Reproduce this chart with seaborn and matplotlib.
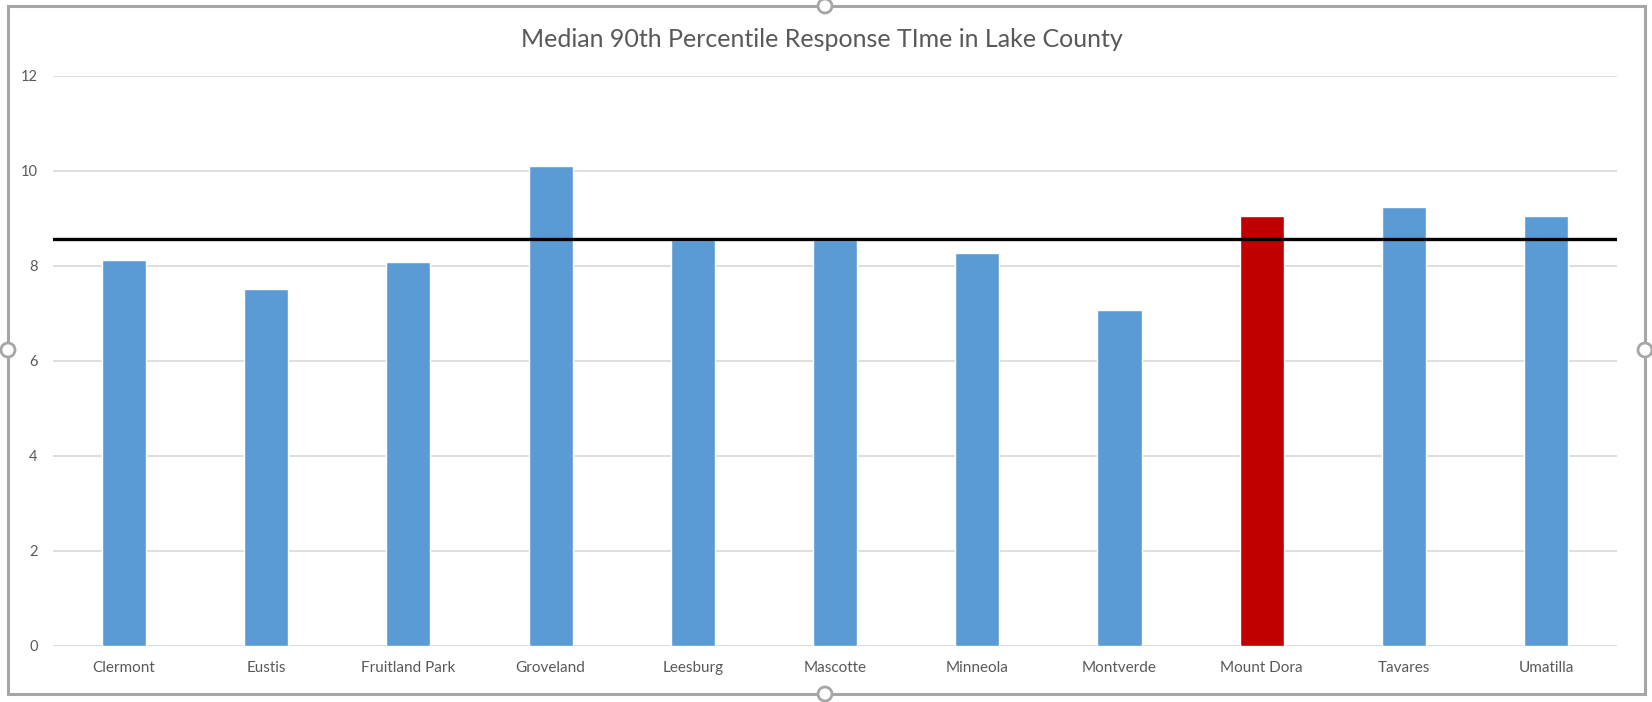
import matplotlib
matplotlib.use("Agg")
import matplotlib.pyplot as plt
import seaborn as sns
import pandas as pd
from matplotlib.patches import Rectangle, Circle

cities = ["Clermont", "Eustis", "Fruitland Park", "Groveland", "Leesburg", "Mascotte",
          "Minneola", "Montverde", "Mount Dora", "Tavares", "Umatilla"]
times = [8.13, 7.51, 8.09, 10.11, 8.55, 8.55, 8.26, 7.06, 9.04, 9.24, 9.04]
highlight = "Mount Dora"
median_line = 8.56
yticks = [0, 2, 4, 6, 8, 10, 12]
title = "Median 90th Percentile Response TIme in Lake County"

BLUE = "#5b9bd5"
RED = "#c00000"
GRAY = "#595959"

sns.set_theme(style="white")
plt.rcParams["font.family"] = ["Lato", "DejaVu Sans"]

df = pd.DataFrame({"city": cities, "time": times})
palette = {c: (RED if c == highlight else BLUE) for c in cities}

fig = plt.figure(figsize=(16.52, 7.02), dpi=100)
ax = fig.add_axes([0.032, 0.080, 0.947, 0.812])

sns.barplot(data=df, x="city", y="time", hue="city", palette=palette,
            width=0.31, saturation=1, legend=False, ax=ax, zorder=2)

ax.set_ylim(0, 12)
ax.set_xlim(-0.5, len(cities) - 0.5)
ax.set_yticks(yticks)
ax.set_yticklabels([str(t) for t in yticks])
ax.yaxis.grid(True, color="#d9d9d9", linewidth=1.2, zorder=0)
ax.set_axisbelow(True)
for s in ax.spines.values():
    s.set_visible(False)
ax.axhline(0, color="#d9d9d9", linewidth=1.2, zorder=1)
ax.axhline(median_line, color="black", linewidth=2.4, zorder=3)
ax.set_xlabel("")
ax.set_ylabel("")
ax.tick_params(axis="both", length=0, colors=GRAY)
ax.tick_params(axis="y", pad=11, labelsize=10.5)
ax.tick_params(axis="x", pad=11, labelsize=11)

fig.text(0.4975, 0.944, title, ha="center", va="center", fontsize=18, color=GRAY)

# chart frame (selection border)
W, H = 1652, 702
fx0, fx1, fy0, fy1 = 8 / W, 1645 / W, 1 - 694 / H, 1 - 6 / H
fig.patches.append(Rectangle((fx0, fy0), fx1 - fx0, fy1 - fy0, transform=fig.transFigure,
                             fill=False, edgecolor="#a6a6a6", linewidth=2.2))
r = 7
for (px, py) in [(825, 6), (825, 694), (8, 350), (1645, 350)]:
    fig.patches.append(Circle((px, H - py), r, transform=None, facecolor="white",
                              edgecolor="#a6a6a6", linewidth=2))

fig.savefig("out.png", dpi=100, facecolor="white")
